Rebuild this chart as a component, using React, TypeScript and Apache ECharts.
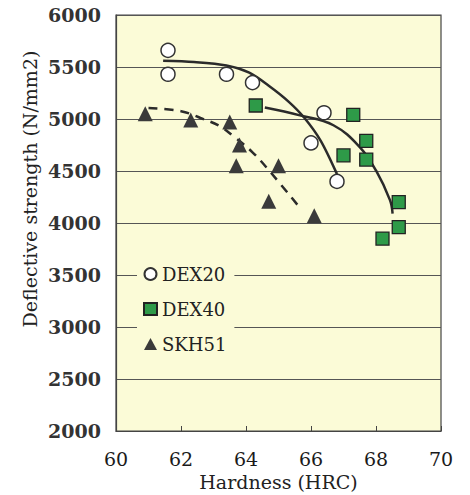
import React, { useEffect, useRef } from "react";
import * as echarts from "echarts";

// Measured points: [hardness HRC, deflective strength N/mm2]
const dex20Points: [number, number][] = [
  [61.6, 5660], [61.6, 5430], [63.4, 5430], [64.2, 5350],
  [66.4, 5060], [66.0, 4770], [66.8, 4400],
];
const dex40Points: [number, number][] = [
  [64.3, 5130], [67.3, 5040], [67.7, 4790], [67.0, 4650],
  [67.7, 4610], [68.7, 4200], [68.7, 3960], [68.2, 3850],
];
const skh51Points: [number, number][] = [
  [60.9, 5050], [62.3, 4990], [63.5, 4970], [63.8, 4750],
  [63.7, 4550], [65.0, 4550], [64.7, 4210], [66.1, 4070],
];
// Trend curves (read from the drawn fits)
const dex20Fit: [number, number][] = [
  [61.45, 5560], [62.4, 5548], [63.4, 5515], [64.1, 5445],
  [64.7, 5320], [65.3, 5170], [65.8, 5010], [66.3, 4790], [66.8, 4470],
];
const dex40Fit: [number, number][] = [
  [64.58, 5110], [65.66, 5035], [66.69, 4940], [67.5, 4730],
  [68.0, 4505], [68.43, 4220], [68.51, 4090],
];
const skh51Fit: [number, number][] = [
  [61.0, 5105], [62.0, 5075], [62.6, 5010], [63.2, 4930],
  [63.65, 4825], [64.2, 4680], [64.75, 4490], [65.7, 4130],
];
const seriesNames = ["DEX20", "DEX40", "SKH51"];

const FONT = "'DejaVu Serif', 'Liberation Serif', serif";
const PLOT_BG = "#fbfbd7";

export default function App() {
  const ref = useRef<HTMLDivElement>(null);
  useEffect(() => {
    if (!ref.current) return;
    const chart = echarts.init(ref.current, undefined, { renderer: "svg" });
    const lineStyleBase = { color: "#2b2b2b", width: 2.5 };
    chart.setOption({
      animation: false,
      backgroundColor: "#ffffff",
      grid: {
        left: 116,
        right: 29,
        top: 15,
        bottom: 64,
        containLabel: false,
        outerBoundsMode: "none",
        show: true,
        backgroundColor: PLOT_BG,
        borderColor: "#444",
        borderWidth: 1.2,
      },
      xAxis: {
        type: "value",
        min: 60,
        max: 70,
        interval: 2,
        name: "Hardness (HRC)",
        nameLocation: "middle",
        nameGap: 41,
        nameMoveOverlap: false,
        nameTextStyle: { fontFamily: FONT, fontSize: 19, color: "#222" },
        axisLine: { show: true, lineStyle: { color: "#444", width: 1.2 } },
        axisTick: { show: true, inside: true, length: 5, lineStyle: { color: "#444" } },
        axisLabel: {
          fontFamily: FONT,
          fontSize: 19,
          color: "#1a1a1a",
          margin: 18,
          formatter: (v: number) => String(v),
        },
        splitLine: { show: false },
      },
      yAxis: {
        type: "value",
        min: 2000,
        max: 6000,
        interval: 500,
        axisLine: { show: true, lineStyle: { color: "#444", width: 1.2 } },
        axisTick: { show: false },
        axisLabel: {
          fontFamily: FONT,
          fontSize: 19,
          fontWeight: "bold",
          color: "#333",
          margin: 15,
          formatter: (v: number) => String(v),
        },
        splitLine: { show: true, lineStyle: { color: "#555", width: 1 } },
      },
      legend: {
        data: seriesNames,
        orient: "vertical",
        left: 137,
        top: 258,
        padding: [6, 8, 6, 6],
        itemGap: 15,
        itemWidth: 13,
        itemHeight: 12,
        backgroundColor: PLOT_BG,
        textStyle: { fontFamily: FONT, fontSize: 18, color: "#222", lineHeight: 20 },
      },
      graphic: [
        {
          type: "text",
          x: 30,
          y: 189,
          rotation: Math.PI / 2,
          style: {
            text: "Deflective strength (N/mm2)",
            fontFamily: FONT,
            fontSize: 19,
            fill: "#222",
            align: "center",
            verticalAlign: "middle",
          },
        },
      ],
      series: [
        {
          type: "line",
          name: "DEX20 fit",
          data: dex20Fit,
          smooth: 0.3,
          showSymbol: false,
          lineStyle: lineStyleBase,
          z: 1,
        },
        {
          type: "line",
          name: "DEX40 fit",
          data: dex40Fit,
          smooth: 0.4,
          showSymbol: false,
          lineStyle: lineStyleBase,
          z: 1,
        },
        {
          type: "line",
          name: "SKH51 fit",
          data: skh51Fit,
          smooth: 0.4,
          showSymbol: false,
          lineStyle: { ...lineStyleBase, type: [9, 7] },
          z: 1,
        },
        {
          type: "scatter",
          name: seriesNames[0],
          data: dex20Points,
          symbol: "circle",
          symbolSize: 14,
          itemStyle: { color: "#ffffff", borderColor: "#333", borderWidth: 1.5, opacity: 1 },
          z: 3,
        },
        {
          type: "scatter",
          name: seriesNames[1],
          data: dex40Points,
          symbol: "rect",
          symbolSize: 13,
          itemStyle: { color: "#2e9a48", borderColor: "#222", borderWidth: 1.3, opacity: 1 },
          z: 3,
        },
        {
          type: "scatter",
          name: seriesNames[2],
          data: skh51Points,
          symbol: "triangle",
          symbolSize: 15,
          itemStyle: { color: "#3a3a3a", opacity: 1 },
          z: 3,
        },
      ],
    });
    return () => chart.dispose();
  }, []);
  return <div ref={ref} style={{ width: 470, height: 495, position: "absolute", left: 0, top: 0 }} />;
}
